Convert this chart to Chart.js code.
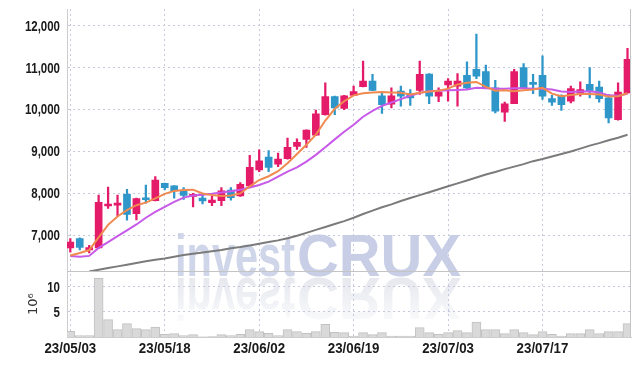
<!DOCTYPE html>
<html lang="en">
  <head>
    <meta charset="UTF-8" />
    <title>investCRUX daily chart</title>
    <script src="https://cdn.jsdelivr.net/npm/chart.js@4.4.0/dist/chart.umd.min.js"></script>
    <style>
      body {
        margin: 0;
        background: #fff;
      }
      #wrap {
        width: 639px;
        height: 366px;
      }
    </style>
  </head>
  <body>
    <div id="wrap"><canvas id="myChart"></canvas></div>
    <script>
      const dates = [
        "23/05/03", "23/05/04", "23/05/08", "23/05/09", "23/05/10", "23/05/11", "23/05/12", "23/05/15", "23/05/16", "23/05/17",
        "23/05/18", "23/05/19", "23/05/22", "23/05/23", "23/05/24", "23/05/25", "23/05/26", "23/05/30", "23/05/31", "23/06/01",
        "23/06/02", "23/06/05", "23/06/07", "23/06/08", "23/06/09", "23/06/12", "23/06/13", "23/06/14", "23/06/15", "23/06/16",
        "23/06/19", "23/06/20", "23/06/21", "23/06/22", "23/06/23", "23/06/26", "23/06/27", "23/06/28", "23/06/29", "23/06/30",
        "23/07/03", "23/07/04", "23/07/05", "23/07/06", "23/07/07", "23/07/10", "23/07/11", "23/07/12", "23/07/13", "23/07/14",
        "23/07/17", "23/07/18", "23/07/19", "23/07/20", "23/07/21", "23/07/24", "23/07/25", "23/07/26", "23/07/27", "23/07/28",
      ];

      const open = [
        6700, 6920, 6650, 6700, 7700, 7720, 7980, 7520, 7880, 7830,
        8240, 8180, 8060, 7930, 7890, 7780, 7830, 8080, 7940, 8180,
        8560, 8870, 8700, 8830, 9120, 9290, 9390, 9880, 10310, 10030,
        10340, 10550, 10680, 10330, 10130, 10440, 10380, 10460, 10850, 10320,
        10590, 10560, 10820, 10960, 10910, 10520, 9940, 10140, 11000, 10620,
        10820, 10260, 10340, 10200, 10390, 10600, 10540, 10280, 9760, 10400,
      ];
      const high = [
        6920, 6940, 6760, 7960, 8150, 7960, 8100, 7890, 8200, 8400,
        8250, 8190, 8140, 8000, 7960, 7930, 8140, 8140, 8260, 8910,
        9040, 9020, 8960, 9320, 9300, 9520, 9990, 10640, 10320, 10340,
        10560, 11160, 10840, 10420, 10520, 10560, 10480, 11160, 10860, 10520,
        10740, 10860, 11140, 11800, 11060, 10700, 10180, 10960, 11100, 10840,
        11280, 10340, 10350, 10560, 10660, 11000, 10680, 10360, 10640, 11460,
      ];
      const low = [
        6600, 6650, 6580, 6690, 7640, 7460, 7360, 7370, 7770, 7820,
        8090, 7890, 7860, 7680, 7750, 7710, 7710, 7840, 7930, 8170,
        8520, 8520, 8640, 8820, 9050, 9100, 9380, 9870, 9880, 10000,
        10330, 10540, 10450, 9910, 10040, 10080, 10100, 10360, 10140, 10190,
        10200, 10080, 10480, 10740, 10500, 9920, 9720, 10140, 10500, 10380,
        10240, 10100, 9980, 10160, 10320, 10280, 10180, 9680, 9750, 10390,
      ];
      const close = [
        6840, 6710, 6710, 7790, 7720, 7730, 7500, 7880, 7850, 8320,
        8140, 8060, 7950, 7980, 7820, 7840, 8060, 7900, 8220, 8620,
        8780, 8620, 8820, 9100, 9220, 9510, 9900, 10310, 10040, 10330,
        10430, 10680, 10460, 10120, 10330, 10320, 10280, 10840, 10320, 10420,
        10680, 10680, 10520, 10800, 10520, 9960, 10140, 10910, 10520, 10600,
        10320, 10180, 10120, 10500, 10480, 10440, 10260, 9800, 10420, 11200,
      ];

      // moving averages (orange, purple, grey)
      const maShort = [
        6520, 6580, 6650, 6950, 7250, 7450, 7600, 7720, 7780, 7880,
        7990, 8060, 8080, 8090, 8000, 7960, 7940, 7950, 8000, 8170,
        8320, 8410, 8530, 8720, 8940, 9160, 9400, 9740, 10020, 10200,
        10340, 10390, 10410, 10420, 10410, 10400, 10360, 10400, 10430, 10450,
        10500, 10600, 10640, 10660, 10540, 10450, 10460, 10440, 10460, 10480,
        10520, 10380, 10320, 10350, 10370, 10370, 10360, 10310, 10320, 10390,
      ];
      const maMid = [
        6510, 6490, 6510, 6700, 6840, 6980, 7120, 7260, 7420, 7560,
        7680, 7800, 7900, 7950, 7970, 7990, 8020, 8050, 8090, 8140,
        8200, 8280, 8400, 8520, 8620, 8760, 8920, 9100, 9290, 9470,
        9640, 9830, 9970, 10090, 10170, 10250, 10330, 10400, 10440, 10450,
        10460, 10470, 10480, 10520, 10510, 10500, 10500, 10510, 10510, 10500,
        10500, 10480, 10430, 10420, 10430, 10440, 10410, 10340, 10330, 10380,
      ];
      const maLong = [
        null, null, 6140, 6180, 6220, 6260, 6300, 6340, 6380, 6420,
        6450, 6490, 6530, 6560, 6590, 6620, 6650, 6690, 6720, 6760,
        6800, 6840, 6880, 6930, 6990, 7060, 7130, 7200, 7270, 7340,
        7420, 7510, 7590, 7670, 7740, 7820, 7890, 7960, 8030, 8100,
        8170, 8240, 8310, 8380, 8450, 8510, 8580, 8640, 8700, 8770,
        8820, 8880, 8940, 9000, 9070, 9140, 9200, 9270, 9330, 9400,
      ];

      // volume, millions of shares
      const volume = [
        1.13, 0.27, 0.27, 11.7, 3.47, 1.47, 2.67, 1.67, 1.47, 2.0,
        0.53, 0.67, 0.27, 0.47, 0.05, 0.1, 0.47, 0.27, 0.53, 1.47,
        1.07, 0.73, 0.27, 1.47, 1.07, 0.73, 1.07, 2.53, 0.93, 0.87,
        0.2, 0.87, 0.47, 0.87, 0.2, 0.2, 0.2, 1.87, 0.87, 0.53,
        0.87, 1.27, 0.87, 3.0, 1.47, 1.47, 0.67, 1.47, 0.87, 0.47,
        1.07, 0.53, 0.2, 0.67, 0.67, 1.47, 0.67, 1.07, 1.07, 2.67,
      ];

      const dateTicks = [0, 10, 20, 30, 40, 50];
      const priceTicks = [7000, 8000, 9000, 10000, 11000, 12000];
      const volumeTicks = [5, 10];

      const pink = "#e41b69";
      const blue = "#2f96c9";
      const gridColor = "#c6c9dd";
      const edgeColor = "#cdcdcd";

      const idx = dates.map((d, i) => i);
      const candleColors = idx.map((i) => (close[i] >= open[i] ? pink : blue));

      // narrow bold labels: no condensed font is installed, so squeeze with maxWidth
      function narrowText(ctx, text, x, y, squeeze) {
        const w = ctx.measureText(text).width;
        ctx.fillText(text, x, y, w * squeeze);
      }

      const decorations = {
        id: "decorations",
        beforeDraw(chart) {
          const ctx = chart.ctx;
          const area = chart.chartArea;
          const base = chart.scales.y.bottom + 5;
          const x0 = area.left + 108;
          ctx.save();
          ctx.font = "bold 60px 'Liberation Sans', Arial, sans-serif";
          ctx.textBaseline = "alphabetic";
          ctx.fillStyle = "#d0d6e9";
          ctx.fillText("invest", x0, base, 120);
          ctx.fillStyle = "#c7cee5";
          ctx.fillText("CRUX", x0 + 122, base, 164);
          // reflection
          ctx.translate(0, 2 * base + 2);
          ctx.scale(1, -1);
          const g = ctx.createLinearGradient(0, base, 0, base - 46);
          g.addColorStop(0, "rgba(214,217,228,0.6)");
          g.addColorStop(1, "rgba(214,217,228,0.1)");
          ctx.fillStyle = g;
          ctx.fillText("invest", x0, base, 120);
          ctx.fillText("CRUX", x0 + 122, base, 164);
          ctx.restore();
        },
        afterDraw(chart) {
          const ctx = chart.ctx;
          const area = chart.chartArea;
          const { x, y, yv } = chart.scales;
          ctx.save();
          ctx.strokeStyle = "#c4c4c4";
          ctx.lineWidth = 1;
          ctx.beginPath();
          ctx.moveTo(area.left, Math.round(yv.top) + 0.5);
          ctx.lineTo(area.right, Math.round(yv.top) + 0.5);
          ctx.moveTo(Math.round(area.right) - 0.5, area.top);
          ctx.lineTo(Math.round(area.right) - 0.5, area.bottom);
          ctx.stroke();

          ctx.fillStyle = "#1a1a1a";
          ctx.font = "bold 14px 'Liberation Sans', Arial, sans-serif";
          ctx.textAlign = "right";
          ctx.textBaseline = "middle";
          priceTicks.forEach((v) => {
            narrowText(ctx, v.toLocaleString("en-US"), y.right - 7, y.getPixelForValue(v) + 1, 0.82);
          });
          volumeTicks.forEach((v) => {
            narrowText(ctx, String(v), yv.right - 7, yv.getPixelForValue(v) + 1, 0.82);
          });
          ctx.textAlign = "center";
          ctx.textBaseline = "top";
          dateTicks.forEach((i) => {
            narrowText(ctx, dates[i], x.getPixelForValue(i), area.bottom + 5, 0.95);
          });
          ctx.restore();
        },
      };

      const lineSet = (label, values, color) => ({
        type: "line",
        label: label,
        yAxisID: "y",
        data: idx.map((i) => ({ x: i, y: values[i] })),
        borderColor: color,
        borderWidth: 2,
        pointRadius: 0,
        tension: 0,
        order: 0,
      });

      const ctx = document.getElementById("myChart").getContext("2d");
      const myChart = new Chart(ctx, {
        type: "bar",
        plugins: [decorations],
        data: {
          datasets: [
            lineSet("MA5", maShort, "#f08a50"),
            lineSet("MA20", maMid, "#c75ae8"),
            lineSet("MA120", maLong, "#7b7b7b"),
            {
              label: "body",
              yAxisID: "y",
              data: idx.map((i) => ({ x: i, y: [open[i], close[i]] })),
              backgroundColor: candleColors,
              barThickness: 7,
              minBarLength: 2,
              grouped: false,
              order: 1,
            },
            {
              label: "wick",
              yAxisID: "y",
              data: idx.map((i) => ({ x: i, y: [low[i], high[i]] })),
              backgroundColor: candleColors,
              barThickness: 1.6,
              grouped: false,
              order: 2,
            },
            {
              label: "volume",
              yAxisID: "yv",
              data: idx.map((i) => ({ x: i, y: volume[i] })),
              backgroundColor: "#d9d9d9",
              borderColor: "#c2c2c2",
              borderWidth: 1,
              barThickness: 9,
              grouped: false,
              order: 3,
            },
          ],
        },
        options: {
          responsive: true,
          maintainAspectRatio: false,
          animation: false,
          layout: { padding: { left: 5, top: 9, right: 8, bottom: 29 } },
          plugins: {
            legend: { display: false },
            tooltip: { enabled: false },
          },
          scales: {
            x: {
              type: "linear",
              min: -0.35,
              max: 59.37,
              offset: false,
              afterBuildTicks: (axis) => {
                axis.ticks = dateTicks.map((v) => ({ value: v }));
              },
              ticks: { display: false },
              grid: { color: gridColor, drawTicks: false, offset: false },
              border: { color: edgeColor, dash: [2, 3] },
            },
            yv: {
              position: "left",
              stack: "panels",
              stackWeight: 1,
              min: 0,
              max: 13.1,
              afterBuildTicks: (axis) => {
                axis.ticks = volumeTicks.map((v) => ({ value: v }));
              },
              afterFit: (axis) => {
                axis.width = 62;
              },
              ticks: { display: false },
              title: {
                display: true,
                text: "10⁶",
                color: "#333",
                padding: { top: 21, bottom: 0 },
                font: { family: "'DejaVu Sans', sans-serif", size: 13 },
              },
              grid: { color: gridColor, drawTicks: false },
              border: { color: edgeColor, dash: [2, 3] },
            },
            y: {
              position: "left",
              stack: "panels",
              stackWeight: 4,
              min: 6140,
              max: 12400,
              afterBuildTicks: (axis) => {
                axis.ticks = priceTicks.map((v) => ({ value: v }));
              },
              afterFit: (axis) => {
                axis.width = 62;
              },
              ticks: { display: false },
              grid: { color: gridColor, drawTicks: false },
              border: { color: edgeColor, dash: [2, 3] },
            },
          },
        },
      });
    </script>
  </body>
</html>
